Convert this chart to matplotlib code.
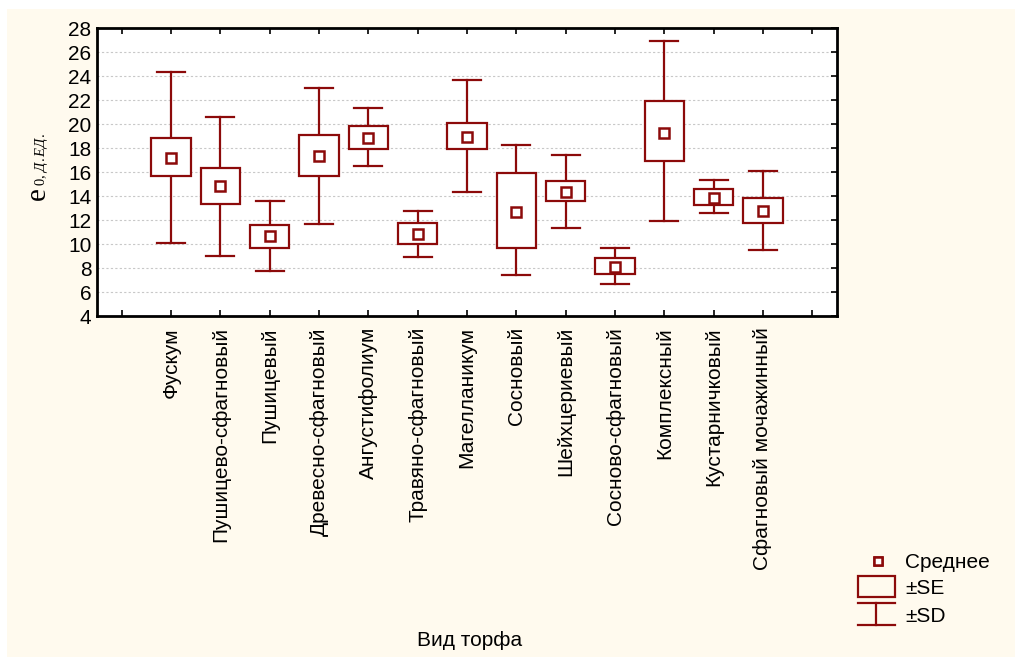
import matplotlib
matplotlib.use("Agg")
from matplotlib import pyplot as plt
from matplotlib.patches import Rectangle
from matplotlib.lines import Line2D
import numpy as np

# peat types and statistics
categories = ["Фускум", "Пушицево-сфагновый", "Пушицевый", "Древесно-сфагновый",
              "Ангустифолиум", "Травяно-сфагновый", "Магелланикум", "Сосновый",
              "Шейхцериевый", "Сосново-сфагновый", "Комплексный", "Кустарничковый",
              "Сфагновый мочажинный"]
means = [17.2, 14.8, 10.67, 17.36, 18.8, 10.8, 18.95, 12.7, 14.3, 8.08, 19.28, 13.86, 12.72]
se_hi = [18.8, 16.3, 11.6, 19.06, 19.86, 11.72, 20.08, 15.95, 15.25, 8.86, 21.92, 14.6, 13.83]
se_lo = [15.7, 13.33, 9.7, 15.67, 17.92, 9.97, 17.9, 9.7, 13.56, 7.5, 16.9, 13.25, 11.78]
sd_hi = [24.36, 20.6, 13.56, 23.03, 21.3, 12.78, 23.67, 18.25, 17.42, 9.67, 26.95, 15.3, 16.06]
sd_lo = [10.1, 9.03, 7.75, 11.67, 16.5, 8.92, 14.31, 7.42, 11.36, 6.67, 11.9, 12.61, 9.53]

RED = "#8c0a0a"
CREAM = "#fffaee"
W, H = 1015, 657

plt.rcParams['font.family'] = ['Liberation Sans', 'DejaVu Sans']
plt.rcParams['mathtext.fontset'] = 'custom'
plt.rcParams['mathtext.rm'] = 'Liberation Serif'
plt.rcParams['mathtext.it'] = 'Liberation Serif:italic'

fig = plt.figure(figsize=(W / 100, H / 100), dpi=100, facecolor="white")
fig.patches.append(Rectangle((7 / W, 0), 1, 1 - 9 / H, transform=fig.transFigure,
                             facecolor=CREAM, edgecolor="none", zorder=-10))

ax = fig.add_axes([97 / W, 1 - 316 / H, (837 - 97) / W, (316 - 28) / H])
ax.set_facecolor("white")

x = np.arange(1, len(categories) + 1)
box_w = 0.8
cap_w = 0.57
for xi, m, sh, sl, dh, dl in zip(x, means, se_hi, se_lo, sd_hi, sd_lo):
    ax.plot([xi, xi], [sh, dh], color=RED, lw=1.6, zorder=3)
    ax.plot([xi, xi], [dl, sl], color=RED, lw=1.6, zorder=3)
    ax.plot([xi - cap_w / 2, xi + cap_w / 2], [dh, dh], color=RED, lw=1.6, zorder=3)
    ax.plot([xi - cap_w / 2, xi + cap_w / 2], [dl, dl], color=RED, lw=1.6, zorder=3)
    ax.add_patch(Rectangle((xi - box_w / 2, sl), box_w, sh - sl, facecolor="white",
                           edgecolor=RED, lw=1.6, zorder=3))
ax.plot(x, means, linestyle="none", marker="s", markersize=7, markerfacecolor="white",
        markeredgecolor=RED, markeredgewidth=1.8, zorder=4)

ax.set_xlim(-0.5, len(categories) + 1.5)
ax.set_ylim(4, 28)
ax.set_yticks(np.arange(4, 29, 2))
ax.set_xticks(np.arange(0, len(categories) + 2))
ax.set_xticklabels([""] + categories + [""], rotation=90, fontsize=15)
ax.tick_params(axis="x", direction="in", length=4, width=1.2, pad=8, top=True)
ax.tick_params(axis="y", direction="in", length=4, width=1.2, labelsize=15, right=True,
               left=False, pad=4)
ax.grid(axis="y", linestyle=(0, (2, 2)), color="#c8c8c8", lw=0.8)
ax.set_axisbelow(True)
for s in ax.spines.values():
    s.set_linewidth(2)

# y label: large serif "e" with a small subscript
fig.text(38 / W, 1 - 194 / H, "e", family="Liberation Serif", fontsize=21,
         rotation=90, ha="center", va="center")
fig.text(41 / W, 1 - 186 / H, r"$0,\,\mathit{Д.ЕД.}$", fontsize=10.5,
         rotation=90, ha="center", va="bottom")
fig.text(470 / W, 1 - 641 / H, "Вид торфа", ha="center", va="center", fontsize=15)

# legend drawn in pixel positions
def px(xp, yp):
    return xp / W, 1 - yp / H

fig.add_artist(Line2D(*zip(px(878, 561), px(878, 561)), marker="s", markersize=6,
                      markerfacecolor="white", markeredgecolor=RED, markeredgewidth=1.8,
                      linestyle="none"))
x0, y0 = px(858, 597)
fig.add_artist(Rectangle((x0, y0), 37 / W, 21 / H, transform=fig.transFigure,
                         facecolor="none", edgecolor=RED, lw=1.6))
for yy in (603, 625):
    fig.add_artist(Line2D(*zip(px(858, yy), px(895, yy)), color=RED, lw=1.6))
fig.add_artist(Line2D(*zip(px(876, 603), px(876, 625)), color=RED, lw=1.6))
for label, yy in (("Среднее", 562), ("±SE", 588), ("±SD", 617)):
    fig.text(*px(905, yy), label, ha="left", va="center", fontsize=15)

fig.savefig("out.png", dpi=100, facecolor=fig.get_facecolor())
